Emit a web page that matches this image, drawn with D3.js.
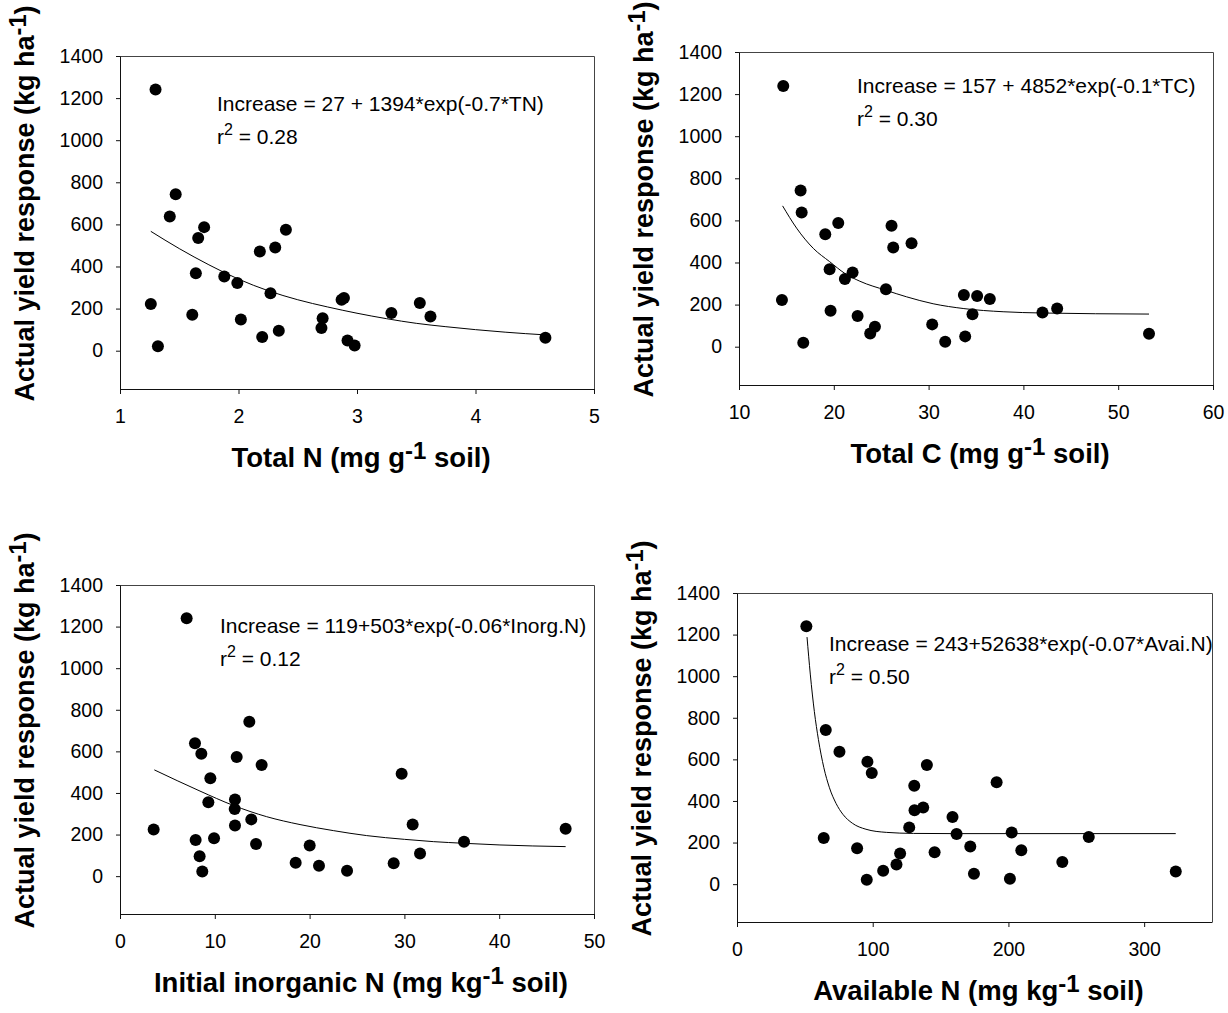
<!DOCTYPE html>
<html>
<head>
<meta charset="utf-8">
<script src="https://cdn.jsdelivr.net/npm/d3@7"></script>
<style>
  body { margin: 0; background: #fff; }
  svg { display: block; font-family: "Liberation Sans", Arial, sans-serif; }
</style>
</head>
<body>
<svg id="chart" width="1228" height="1013"></svg>
<script>
// ---- data ----
// shared y ticks (kg/ha)
const yTickVals = [0, 200, 400, 600, 800, 1000, 1200, 1400];

// Total N (mg/g soil)
const tnX = [1.30, 1.47, 1.42, 1.71, 1.66, 1.64, 1.88, 1.99, 1.26, 1.61, 1.32, 2.02, 2.18, 2.31,
             2.40, 2.27, 2.20, 2.34, 2.71, 2.70, 2.87, 2.89, 2.92, 2.98, 3.29, 3.53, 3.62, 4.59];
const tnY = [1241, 743, 638, 587, 535, 368, 352, 322, 222, 171, 21, 148, 471, 490,
             575, 273, 65, 95, 154, 108, 242, 250, 48, 25, 179, 227, 162, 62];
const tnFitX = [1.26, 1.5, 1.75, 2.0, 2.25, 2.5, 2.75, 3.0, 3.25, 3.5, 3.75, 4.0, 4.25, 4.59];
const tnFitY = [567, 485, 408, 340, 285, 242, 208, 178, 152, 130, 114, 100, 88, 75];
const tnTicks = [1, 2, 3, 4, 5];

// Total C (mg/g soil)
const tcX = [14.67, 16.50, 16.61, 19.10, 20.47, 19.56, 21.17, 21.98, 14.53, 19.66, 16.78, 22.51, 23.84, 24.34,
             25.50, 26.09, 26.27, 28.20, 30.38, 31.75, 33.72, 33.86, 34.63, 35.12, 36.46, 42.01, 43.56, 53.25];
const tcY = [1239, 742, 637, 534, 588, 368, 322, 353, 222, 171, 19, 146, 63, 95,
             273, 574, 471, 491, 106, 24, 246, 49, 154, 241, 227, 162, 181, 62];
const tcFitX = [14.6, 16.08, 17.84, 19.56, 21.17, 22.75, 25.5, 27.67, 30.48, 33.72, 37.86, 42.0, 53.25];
const tcFitY = [669, 563, 467, 404, 348, 311, 268, 237, 204, 181, 166, 160, 155];
const tcTicks = [10, 20, 30, 40, 50, 60];

// Initial inorganic N (mg/kg soil)
const inX = [7.03, 13.64, 7.91, 8.58, 12.31, 14.94, 9.53, 29.71, 12.13, 9.32, 12.10, 13.85, 12.13, 30.87,
             3.55, 7.98, 9.92, 14.35, 20.01, 36.29, 47.01, 8.40, 8.68, 18.53, 20.99, 23.95, 28.87, 31.65];
const inY = [1240, 743, 639, 589, 573, 534, 471, 492, 369, 355, 323, 273, 243, 248,
             224, 174, 182, 155, 147, 165, 228, 96, 22, 64, 50, 26, 62, 109];
const inFitX = [3.62, 8.44, 11.96, 15.47, 18.99, 22.5, 26.02, 30.0, 33.05, 36.29, 40.08, 47.01];
const inFitY = [511, 409, 340, 286, 248, 219, 195, 177, 166, 158, 150, 142];
const inTicks = [0, 10, 20, 30, 40, 50];

// Available N (mg/kg soil)
const anX = [51.1, 65.4, 75.5, 96.1, 99.3, 139.9, 130.6, 191.3, 130.8, 137.2, 158.8, 126.9, 161.8, 202.4,
             63.9, 88.5, 120.2, 171.9, 209.5, 259.2, 145.6, 117.5, 107.7, 95.6, 174.6, 201.1, 239.7, 323.3];
const anY = [1240, 741, 637, 588, 534, 573, 473, 490, 355, 369, 323, 273, 241, 248,
             222, 173, 147, 181, 163, 227, 153, 94, 65, 21, 50, 26, 107, 61];
const anFitX = [51.6, 54, 57, 60, 64, 68, 73, 78, 85, 95, 110, 130, 160, 323.3];
const anFitY = [1188, 1010, 830, 695, 560, 466, 388, 336, 293, 264, 249, 244, 243, 243];
const anTicks = [0, 100, 200, 300];

// panel setup (layout in pixels)
const panels = [
  { xs: tnX, ys: tnY, fx: tnFitX, fy: tnFitY, ticks: tnTicks, xDomain: [1, 5],
    left: 120, right: 594, top: 56, bottom: 389, eqX: 217, eqY: 111,
    eq: 'Increase = 27 + 1394*exp(-0.7*TN)', r2: '0.28',
    xTitle: ['Total N (mg g', '-1', ' soil)'] },
  { xs: tcX, ys: tcY, fx: tcFitX, fy: tcFitY, ticks: tcTicks, xDomain: [10, 60],
    left: 739, right: 1213, top: 52, bottom: 385, eqX: 857, eqY: 93,
    eq: 'Increase = 157 + 4852*exp(-0.1*TC)', r2: '0.30',
    xTitle: ['Total C (mg g', '-1', ' soil)'] },
  { xs: inX, ys: inY, fx: inFitX, fy: inFitY, ticks: inTicks, xDomain: [0, 50],
    left: 120, right: 594, top: 585, bottom: 914, eqX: 220, eqY: 633,
    eq: 'Increase = 119+503*exp(-0.06*Inorg.N)', r2: '0.12',
    xTitle: ['Initial inorganic N (mg kg', '-1', ' soil)'] },
  { xs: anX, ys: anY, fx: anFitX, fy: anFitY, ticks: anTicks, xDomain: [0, 350],
    left: 737, right: 1212, top: 593, bottom: 922, eqX: 829, eqY: 651,
    eq: 'Increase = 243+52638*exp(-0.07*Avai.N)', r2: '0.50',
    xTitle: ['Available N (mg kg', '-1', ' soil)'] }
];

const svg = d3.select('#chart');

function drawPanel(p) {
  const x = d3.scaleLinear().domain(p.xDomain).range([p.left, p.right]);
  const y = d3.scaleLinear().domain([-182, 1400]).range([p.bottom, p.top]);
  const g = svg.append('g');

  // top and right frame lines
  g.append('path')
    .attr('d', `M${p.left},${p.top + 0.5}H${p.right + 0.5}V${p.bottom}`)
    .attr('fill', 'none')
    .attr('stroke', '#444')
    .attr('stroke-width', 1);

  // x axis
  const xAxisG = g.append('g')
    .attr('transform', `translate(0,${p.bottom})`)
    .call(d3.axisBottom(x).tickValues(p.ticks).tickFormat(d3.format('d'))
      .tickSize(5).tickSizeOuter(0).tickPadding(15));

  // y axis
  const yAxisG = g.append('g')
    .attr('transform', `translate(${p.left},0)`)
    .call(d3.axisLeft(y).tickValues(yTickVals).tickFormat(d3.format('d'))
      .tickSize(4).tickSizeOuter(0).tickPadding(13));

  [xAxisG, yAxisG].forEach(a => {
    a.selectAll('path, line').attr('stroke', '#111');
    a.selectAll('text')
      .attr('fill', '#000')
      .style('font-size', '19.5px')
      .style('font-family', '"Liberation Sans", Arial, sans-serif');
  });

  // fitted curve
  const line = d3.line()
    .x(d => x(d[0]))
    .y(d => y(d[1]))
    .curve(d3.curveMonotoneX);
  g.append('path')
    .datum(d3.zip(p.fx, p.fy))
    .attr('d', line)
    .attr('fill', 'none')
    .attr('stroke', '#000')
    .attr('stroke-width', 1);

  // data points
  g.selectAll('circle')
    .data(d3.zip(p.xs, p.ys))
    .join('circle')
    .attr('cx', d => x(d[0]))
    .attr('cy', d => y(d[1]))
    .attr('r', 6)
    .attr('fill', '#000');

  // equation + r2
  g.append('text')
    .attr('x', p.eqX)
    .attr('y', p.eqY)
    .style('font-size', '21px')
    .text(p.eq);

  const r2 = g.append('text')
    .attr('x', p.eqX)
    .attr('y', p.eqY + 33)
    .style('font-size', '21px');
  r2.append('tspan').text('r');
  r2.append('tspan').attr('dy', -9).style('font-size', '16px').text('2');
  r2.append('tspan').attr('dy', 9).text(' = ' + p.r2);

  // x title
  const xt = g.append('text')
    .attr('x', (p.left + p.right) / 2 + 4)
    .attr('y', p.bottom + 78)
    .attr('text-anchor', 'middle')
    .style('font-size', '27.5px')
    .style('font-weight', 'bold');
  xt.append('tspan').text(p.xTitle[0]);
  xt.append('tspan').attr('dy', -8).style('font-size', '24px').text(p.xTitle[1]);
  xt.append('tspan').attr('dy', 8).text(p.xTitle[2]);

  // y title
  const yt = g.append('text')
    .attr('transform', `translate(${p.left - 86},${(p.top + p.bottom) / 2 - 19}) rotate(-90)`)
    .attr('text-anchor', 'middle')
    .style('font-size', '27px')
    .style('font-weight', 'bold');
  yt.append('tspan').text('Actual yield response (kg ha');
  yt.append('tspan').attr('dy', -8).style('font-size', '23.5px').text('-1');
  yt.append('tspan').attr('dy', 8).text(')');
}

panels.forEach(drawPanel);
</script>
</body>
</html>
